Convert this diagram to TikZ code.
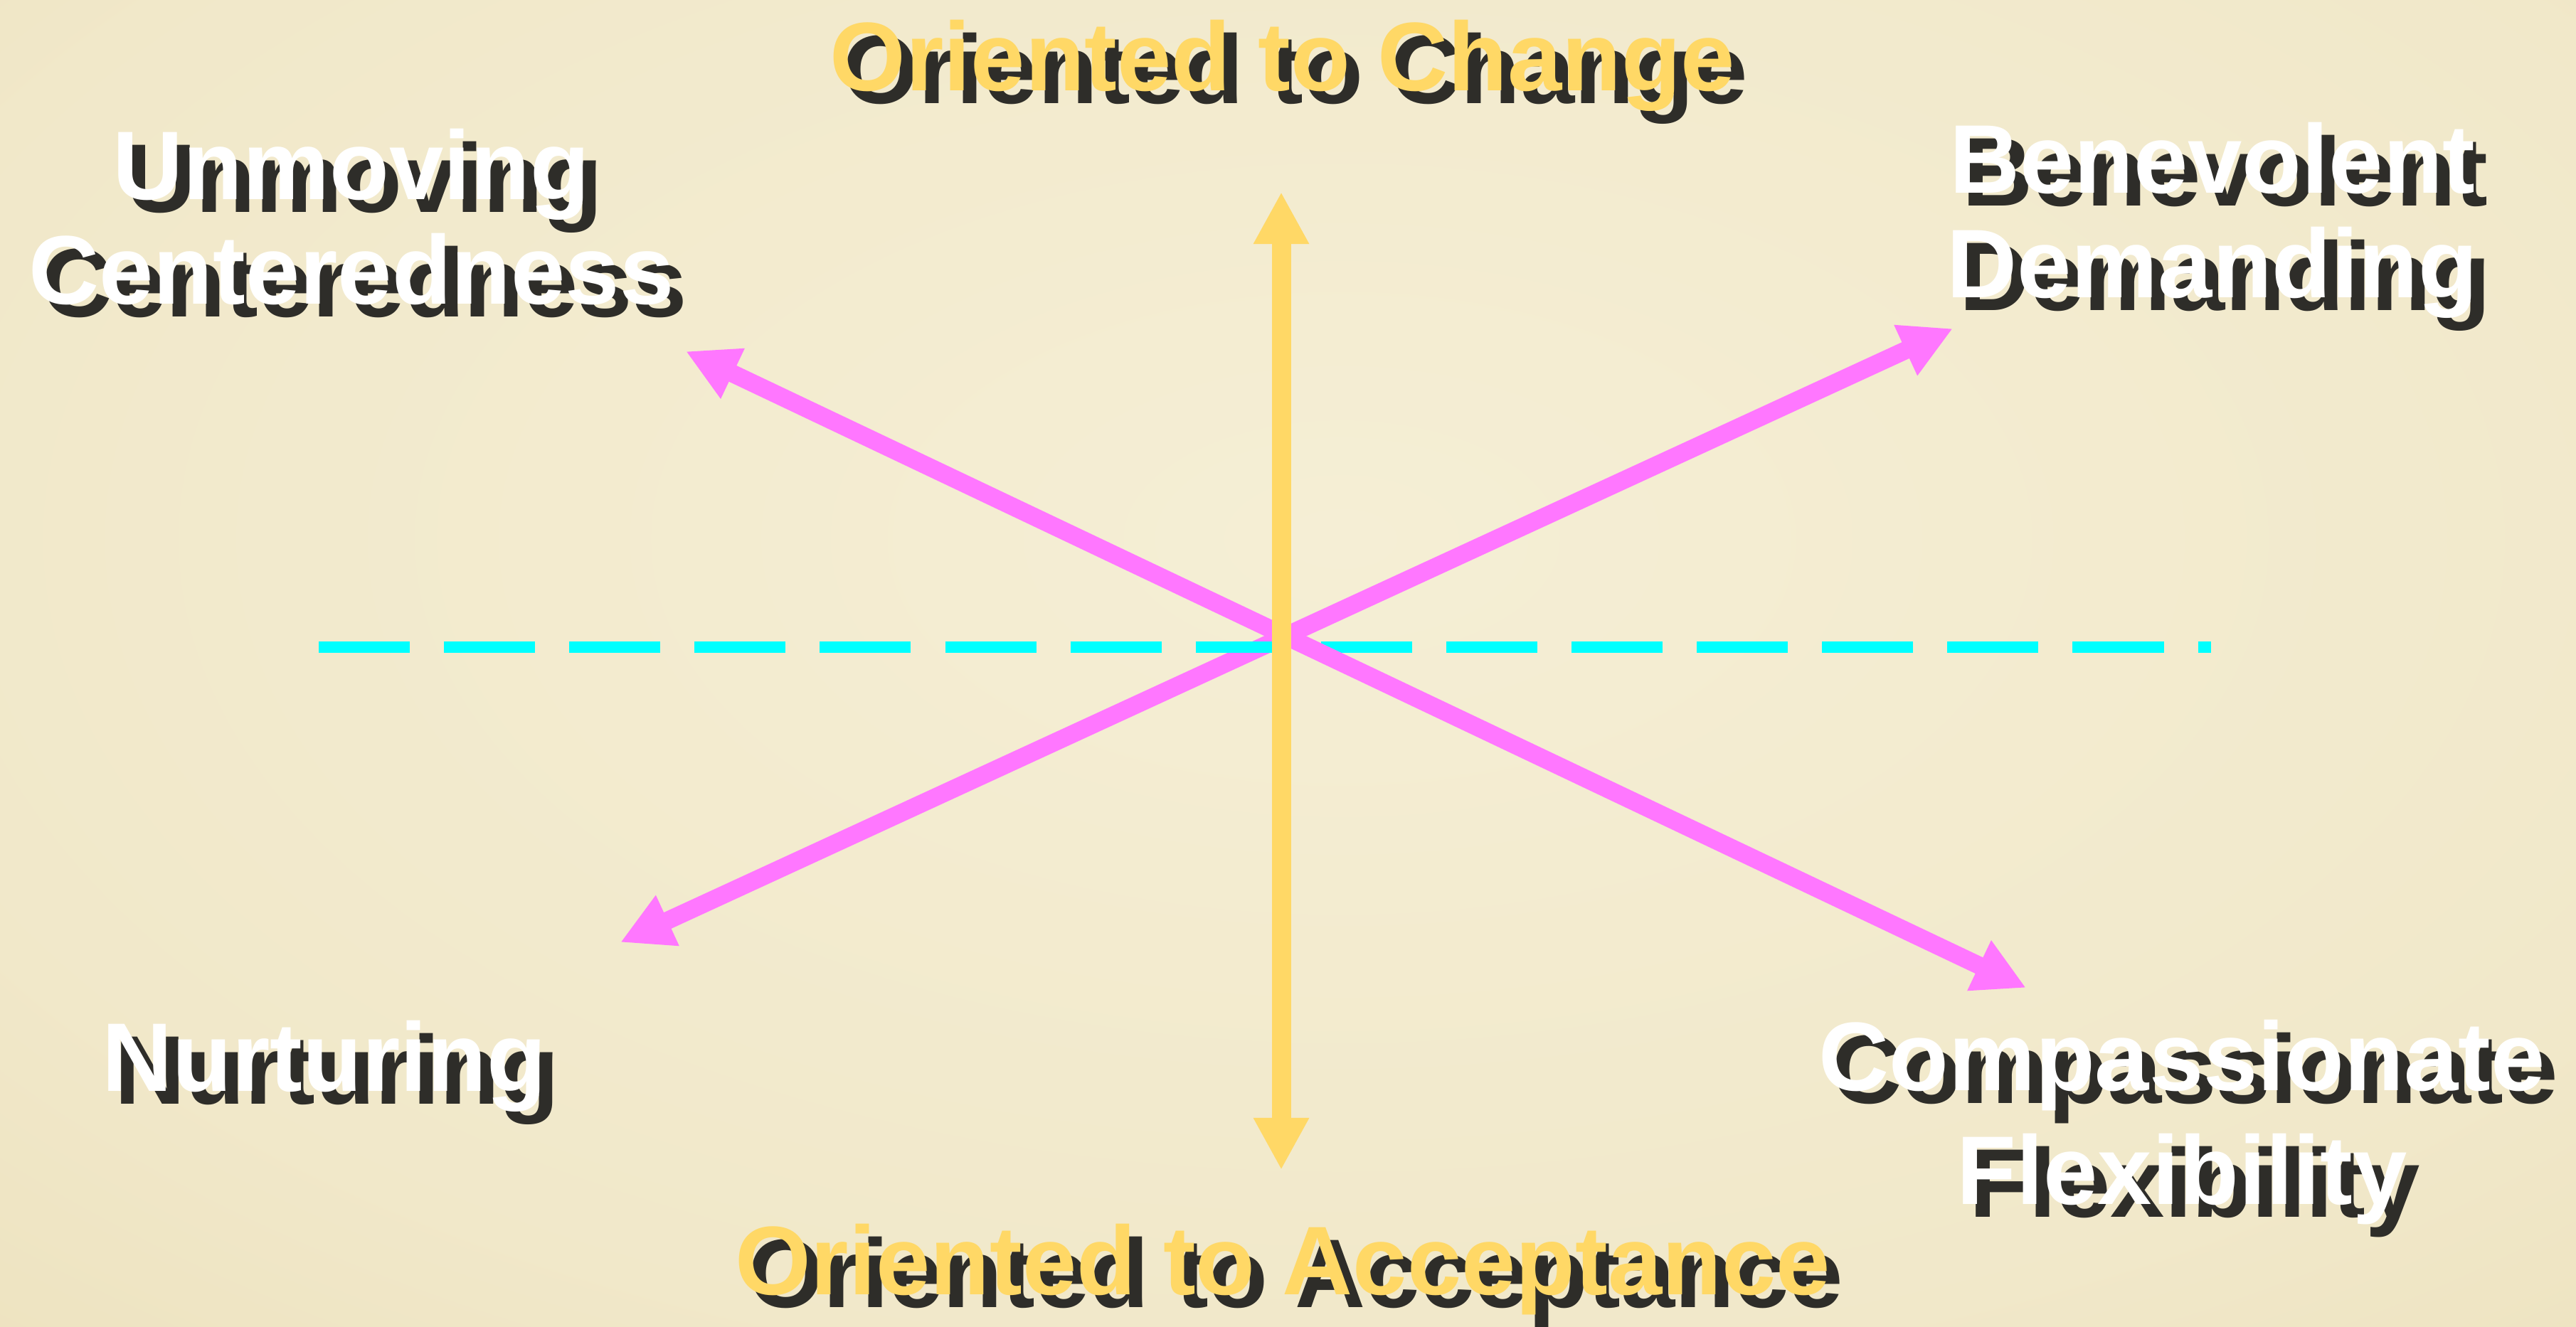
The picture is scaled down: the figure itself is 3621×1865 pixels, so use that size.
\documentclass[tikz,border=0pt]{standalone}
\usepackage{fontspec}
\setmainfont{Liberation Sans}
\usetikzlibrary{arrows.meta}

\definecolor{gold}{RGB}{255,216,102}
\definecolor{pinkline}{RGB}{255,119,255}
\definecolor{aqua}{RGB}{0,255,255}
\definecolor{shadowgray}{RGB}{46,45,41}
\pgfdeclareradialshading{paper}{\pgfpoint{0bp}{0bp}}{%
  rgb(0bp)=(0.96,0.935,0.835);
  rgb(26bp)=(0.945,0.91,0.79);
  rgb(50bp)=(0.905,0.855,0.69);
  rgb(72bp)=(0.85,0.78,0.59)}

\tikzset{
  lbl/.style={font=\bfseries\fontsize{39}{41.8}\selectfont, align=center, anchor=base, inner sep=0pt},
  shadowtxt/.style={lbl, text=shadowgray, xshift=1.8mm, yshift=-1.8mm},
  pinkarrow/.style={pinkline, line width=2.5mm, <->},
}

\begin{document}
\begin{tikzpicture}[x=0.01cm, y=-0.01cm, >={Triangle[width=7.3mm,length=7.3mm]}]
    \useasboundingbox (0,0) rectangle (3621,1865);
    \begin{scope}
        \clip (0,0) rectangle (3621,1865);
        \shade[shading=paper] (-150,-350) rectangle (3921,1865);
    \end{scope}

    % arrow ends
    \coordinate (chg) at (1801,270);
    \coordinate (acc) at (1801,1645);
    \coordinate (ul) at (964,494);
    \coordinate (ur) at (2745,462);
    \coordinate (ll) at (872,1325);
    \coordinate (lr) at (2848,1389);
    \coordinate (dl) at (448,910);
    \coordinate (dr) at (3108,910);

    \draw[pinkarrow] (ll) -- (ur);
    \draw[aqua, line width=1.6mm, dash pattern=on 12.8mm off 4.8mm] (dl) -- (dr);
    \draw[pinkarrow] (ul) -- (lr);
    \draw[gold, line width=2.7mm, <->] (acc) -- (chg);

    % labels with drop shadow (base = last line)
    \node[shadowtxt] (chg-s) at (1803,127) {Oriented to Change};
    \node[lbl, text=gold] (chg-t) at (1803,127) {Oriented to Change};

    \node[shadowtxt] (acc-s) at (1803,1820) {Oriented to Acceptance};
    \node[lbl, text=gold] (acc-t) at (1803,1820) {Oriented to Acceptance};

    \node[shadowtxt] (unm-s) at (494,427) {Unmoving\\Centeredness};
    \node[lbl, text=white] (unm-t) at (494,427) {Unmoving\\Centeredness};

    \node[shadowtxt] (ben-s) at (3110,418) {Benevolent\\Demanding};
    \node[lbl, text=white] (ben-t) at (3110,418) {Benevolent\\Demanding};

    \node[shadowtxt] (nur-s) at (456,1534) {Nurturing};
    \node[lbl, text=white] (nur-t) at (456,1534) {Nurturing};

    \node[shadowtxt] (cmp-s) at (3067,1693) {Compassionate\\[3.7pt]Flexibility};
    \node[lbl, text=white] (cmp-t) at (3067,1693) {Compassionate\\[3.7pt]Flexibility};
\end{tikzpicture}
\end{document}
